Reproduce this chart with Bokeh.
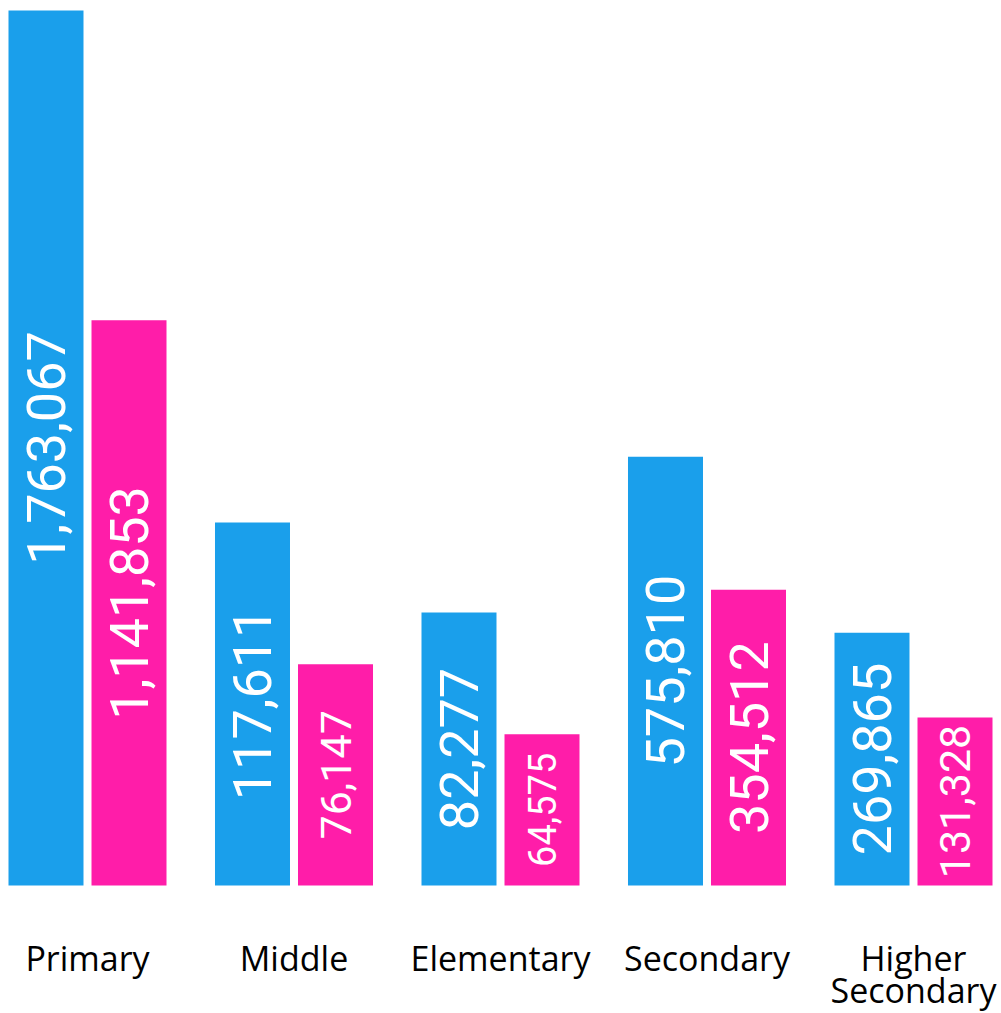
import numpy as np
from bokeh.plotting import figure
from bokeh.models import ColumnDataSource, Range1d
from bokeh.core.properties import value
from bokeh.embed import file_html
from bokeh.resources import INLINE

# ---- data ----
categories = ["Primary", "Middle", "Elementary", "Secondary", "Higher Secondary"]
series_a_heights = [100.0, 41.5, 31.2, 49.0, 28.9]      # bar heights (relative)
series_b_heights = [64.6, 25.3, 17.3, 33.8, 19.2]
series_a_labels = [1763067, 117611, 82277, 575810, 269865]
series_b_labels = [1141853, 76147, 64575, 354512, 131328]

# ---- style ----
BLUE = "#1A9FEB"
PINK = "#FF1DA9"
W, H = 1000, 1012
PX_PER_CAT = 206.5
PX_PER_UNIT = 8.75
a_font_sizes = ["54px", "54px", "54px", "54px", "54px"]
b_font_sizes = ["54px", "43px", "38px", "54px", "43px"]
OFFSET = 0.201
BAR_W = 0.3632

idx = np.arange(len(categories))

x0 = -87 / PX_PER_CAT
p = figure(width=W, height=H, output_backend="svg", toolbar_location=None,
           x_axis_type=None, y_axis_type=None, min_border=0,
           x_range=Range1d(x0, x0 + W / PX_PER_CAT),
           y_range=Range1d(-(H - 885) / PX_PER_UNIT, 100 + 10 / PX_PER_UNIT))
p.outline_line_color = None
p.grid.visible = False
p.background_fill_color = "white"
p.border_fill_color = "white"

src_a = ColumnDataSource(dict(
    x=idx - OFFSET, top=series_a_heights, mid=[h / 2 for h in series_a_heights],
    lab=[f"{v:,}" for v in series_a_labels], fs=a_font_sizes))
src_b = ColumnDataSource(dict(
    x=idx + OFFSET, top=series_b_heights, mid=[h / 2 for h in series_b_heights],
    lab=[f"{v:,}" for v in series_b_labels], fs=b_font_sizes))

for src, col in ((src_a, BLUE), (src_b, PINK)):
    p.vbar(x="x", top="top", bottom=0, width=BAR_W, source=src,
           fill_color=col, line_color=None)
    p.text(x="x", y="mid", text="lab", source=src, angle=np.pi / 2,
           text_align="center", text_baseline="middle", text_color="white",
           text_font=value("Roboto"), text_font_size="fs")

cat_src = ColumnDataSource(dict(x=idx, lab=[c.replace(" ", "\n") for c in categories]))
p.text(x="x", y=-5.6, text="lab", source=cat_src, text_align="center",
       text_baseline="top", text_color="black", text_font=value("Open Sans"),
       text_font_size="34px", text_line_height=0.7)

open("out.html", "w").write(file_html(p, INLINE))
